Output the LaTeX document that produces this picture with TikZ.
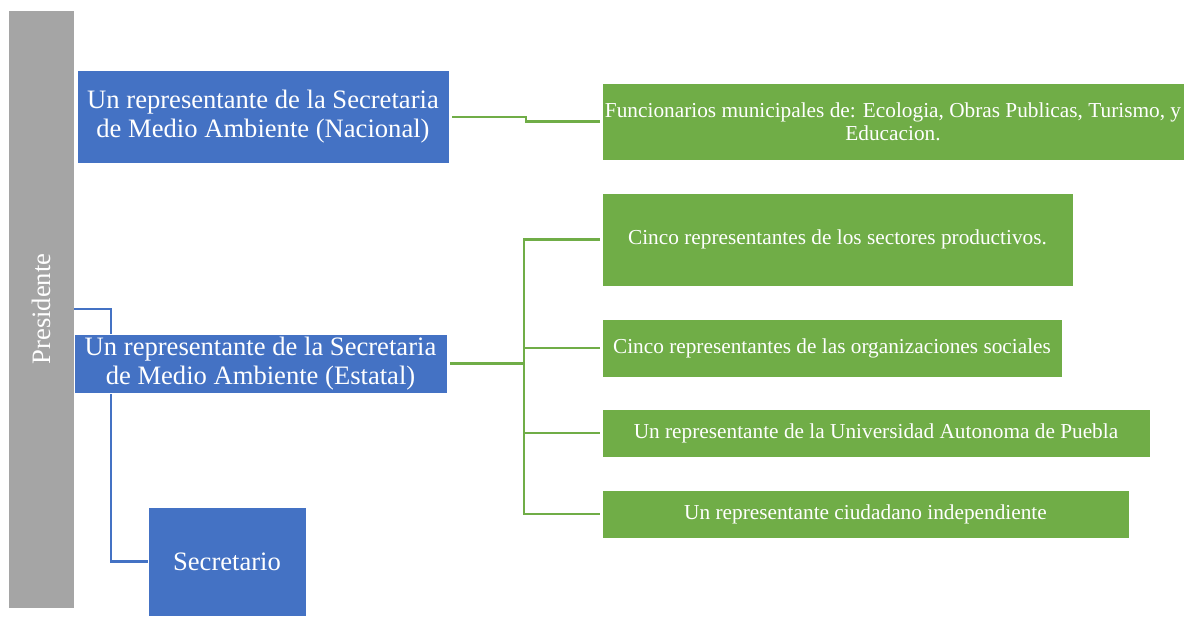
\documentclass[tikz,border=0pt]{standalone}
\usepackage{fontspec}
\setmainfont{Liberation Serif}
\definecolor{blueC}{HTML}{4472C4}
\definecolor{greenC}{HTML}{70AD47}
\definecolor{grayC}{HTML}{A5A5A5}
\tikzset{
  box/.style={draw=white, line width=0.6pt, text=white, inner sep=0pt, align=center},
  bluebox/.style={box, fill=blueC, font=\fontsize{26.6}{28.5}\selectfont},
  greenbox/.style={box, fill=greenC, font=\fontsize{21.3}{23}\selectfont},
  graybox/.style={box, fill=grayC},
  blueline/.style={draw=blueC, line width=2.6pt},
  greenline/.style={draw=greenC, line width=2.6pt},
}
\begin{document}
\begin{tikzpicture}[x=1pt,y=1pt]
\useasboundingbox (0,0) rectangle (1186,-616);
% Presidente
\node[graybox, minimum width=66, minimum height=598] (pres) at (41,-309) {};
\node[text=white, font=\fontsize{26.6}{29}\selectfont, rotate=90, inner sep=0pt] (prestext) at (pres.center) {Presidente};
% blue connector
\coordinate (b1) at (111,-309);
\node[bluebox, minimum width=158, minimum height=109] (sec) at (227,-561.5) {Secretario};
\draw[blueline] (pres.east |- b1) -- (b1) |- (sec.west);
% blue boxes
\node[bluebox, minimum width=372, minimum height=93] (nac) at (263,-116.5) {Un representante de la Secretaria\\de Medio Ambiente (Nacional)};
\node[bluebox, minimum width=373, minimum height=59] (est) at (260.5,-363.5) {Un representante de la Secretaria\\de Medio Ambiente (Estatal)};
% green boxes
\node[greenbox, minimum width=582, minimum height=77] (fun) at (893,-121.5) {Funcionarios municipales de: Ecologia, Obras Publicas, Turismo, y\\Educacion.};
\node[greenbox, minimum width=471, minimum height=93] (g1) at (837.5,-239.5) {Cinco representantes de los sectores productivos.};
\node[greenbox, minimum width=460, minimum height=58] (g2) at (832,-348) {Cinco representantes de las organizaciones sociales};
\node[greenbox, minimum width=548, minimum height=48] (g3) at (876,-433) {Un representante de la Universidad Autonoma de Puebla};
\node[greenbox, minimum width=527, minimum height=48] (g4) at (865.5,-514) {Un representante ciudadano independiente};
% green connectors
\coordinate (n1) at (526,-117);
\coordinate (n2) at (526,-121.5);
\draw[greenline, shorten <=3pt, shorten >=2pt] (nac.east |- n1) -- (n1) -- (n2) -- (fun.west);
\coordinate (t0) at (524,-363.5);
\coordinate (t1) at (524,-239.5);
\coordinate (t4) at (524,-514);
\draw[greenline, shorten <=3pt] (est.east) -- (t0);
\draw[greenline, line cap=rect] (t1) -- (t4);
\draw[greenline, shorten >=2pt] (t1) -- (g1.west);
\draw[greenline, shorten >=2pt] (t1 |- g2.west) -- (g2.west);
\draw[greenline, shorten >=2pt] (t1 |- g3.west) -- (g3.west);
\draw[greenline, shorten >=2pt] (t4) -- (g4.west);
\end{tikzpicture}
\end{document}
